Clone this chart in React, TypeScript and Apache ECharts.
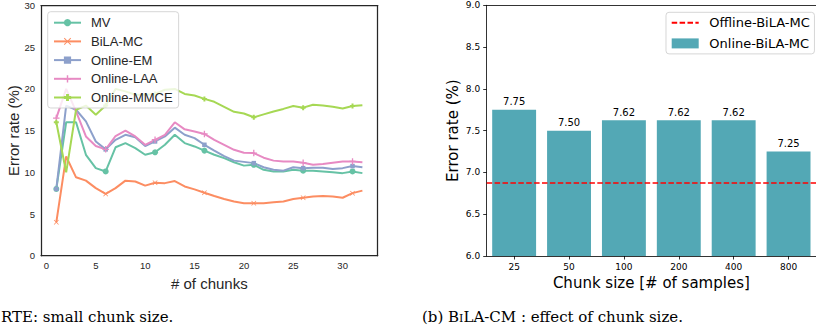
import React, { useEffect, useRef } from "react";
import * as echarts from "echarts";

// ---- Left chart data ----
const chunks = [1, 2, 3, 4, 5, 6, 7, 8, 9, 10, 11, 12, 13, 14, 15, 16, 17, 18, 19, 20, 21, 22, 23, 24, 25, 26, 27, 28, 29, 30, 31, 32];
const mvErr = [8.0, 16.0, 16.0, 12.1, 10.5, 10.1, 13.0, 13.5, 12.9, 12.1, 12.4, 13.3, 14.5, 13.5, 13.1, 12.6, 12.1, 11.7, 11.2, 10.8, 10.9, 10.3, 10.1, 10.1, 10.3, 10.2, 10.2, 10.1, 10.0, 9.9, 10.1, 9.9];
const bilaErr = [4.0, 11.9, 9.4, 9.0, 8.1, 7.4, 8.1, 9.0, 8.9, 8.4, 8.75, 8.7, 8.95, 8.3, 7.95, 7.55, 7.15, 6.8, 6.5, 6.3, 6.3, 6.3, 6.4, 6.5, 6.8, 6.95, 7.1, 7.15, 7.1, 6.95, 7.5, 7.8];
const emErr = [8.0, 18.0, 17.5, 16.1, 13.7, 12.75, 13.9, 14.5, 14.2, 13.15, 13.7, 14.3, 15.35, 14.5, 14.1, 13.3, 12.6, 11.95, 11.4, 11.25, 11.1, 10.6, 10.3, 10.2, 10.6, 10.5, 10.55, 10.55, 10.4, 10.5, 10.75, 10.6];
const laaErr = [16.5, 20.0, 17.3, 14.3, 13.15, 12.75, 14.35, 15.0, 14.3, 13.3, 13.9, 14.5, 16.0, 15.15, 14.9, 14.6, 13.9, 13.3, 12.7, 12.35, 12.3, 11.75, 11.4, 11.3, 11.3, 11.15, 10.9, 11.0, 11.15, 11.3, 11.3, 11.2];
const mmceErr = [16.0, 10.0, 17.5, 18.0, 16.9, 18.0, 20.0, 19.7, 19.3, 19.3, 19.4, 19.9, 20.0, 19.4, 19.2, 18.8, 18.45, 17.85, 17.25, 17.05, 16.6, 16.95, 17.3, 17.6, 17.95, 17.75, 18.1, 18.0, 17.85, 17.65, 17.95, 18.05];
const leftXTicks = [0, 5, 10, 15, 20, 25, 30];

// ---- Right chart data ----
const chunkSizes = ["25", "50", "100", "200", "400", "800"];
const onlineBila = [7.75, 7.5, 7.625, 7.625, 7.625, 7.25];
const onlineLabels = ["7.75", "7.50", "7.62", "7.62", "7.62", "7.25"];
const offlineBila = 6.875;

const XPATH = "path://M1,0 L5,4 L9,0 L10,1 L6,5 L10,9 L9,10 L5,6 L1,10 L0,9 L4,5 L0,1 Z";
const PLUS_THIN = "path://M4,0 H6 V4 H10 V6 H6 V10 H4 V6 H0 V4 H4 Z";
const PLUS_THICK = "path://M3,0 H7 V3 H10 V7 H7 V10 H3 V7 H0 V3 H3 Z";

const SANS = "Liberation Sans";
const DJ = "DejaVu Sans";
const DARK = "#262626";

function mk(ys: number[]) {
  return chunks.map((x, i) => (i % 5 === 0 ? [x, ys[i]] : { value: [x, ys[i]], symbol: "none" }));
}

const leftSeriesDefs = [
  { name: "MV", ys: mvErr, color: "#66c2a5", symbol: "circle", size: 6 },
  { name: "BiLA-MC", ys: bilaErr, color: "#fc8d62", symbol: XPATH, size: 5 },
  { name: "Online-EM", ys: emErr, color: "#8da0cb", symbol: "rect", size: 4.5 },
  { name: "Online-LAA", ys: laaErr, color: "#e78ac3", symbol: PLUS_THIN, size: 6.5 },
  { name: "Online-MMCE", ys: mmceErr, color: "#a6d854", symbol: PLUS_THICK, size: 5 },
];

export default function App() {
  const ref = useRef<HTMLDivElement>(null);
  useEffect(() => {
    document.body.style.margin = "0";
    const chart = echarts.init(ref.current!, null, { renderer: "svg" });
    const leftMin = -0.55;
    const leftMax = 33.55;
    const option: any = {
      animation: false,
      grid: [
        { left: 41, top: 5.5, width: 336.7, height: 250.2 },
        { left: 486.7, top: 5.3, width: 336, height: 250.7 },
      ],
      xAxis: [
        {
          gridIndex: 0,
          type: "value",
          min: leftMin,
          max: leftMax,
          axisLine: { show: true, onZero: false, lineStyle: { color: DARK, width: 1.25 } },
          axisTick: { show: false },
          splitLine: { show: false },
          axisLabel: { customValues: leftXTicks, color: DARK, fontSize: 9.5, fontFamily: SANS, margin: 5 },
          name: "# of chunks",
          nameLocation: "middle",
          nameGap: 17,
          nameTextStyle: { fontSize: 15, fontFamily: SANS, color: DARK },
        },
        {
          gridIndex: 0,
          type: "value",
          position: "top",
          min: leftMin,
          max: leftMax,
          axisLine: { show: true, onZero: false, lineStyle: { color: DARK, width: 1.25 } },
          axisTick: { show: false },
          axisLabel: { show: false },
          splitLine: { show: false },
        },
        {
          gridIndex: 1,
          type: "category",
          data: chunkSizes,
          axisLine: { show: true, onZero: false, lineStyle: { color: "#000", width: 0.8 } },
          axisTick: { show: true, alignWithLabel: true, length: 3.5, lineStyle: { color: "#000", width: 0.8 } },
          axisLabel: { color: "#000", fontSize: 9, fontFamily: DJ, margin: 6 },
          splitLine: { show: false },
          name: "Chunk size [# of samples]",
          nameLocation: "middle",
          nameGap: 18,
          nameTextStyle: { fontSize: 15, fontFamily: DJ, color: "#000" },
        },
        {
          gridIndex: 1,
          type: "category",
          position: "top",
          data: chunkSizes,
          axisLine: { show: true, onZero: false, lineStyle: { color: "#000", width: 0.8 } },
          axisTick: { show: false },
          axisLabel: { show: false },
          splitLine: { show: false },
        },
      ],
      yAxis: [
        {
          gridIndex: 0,
          type: "value",
          min: 0,
          max: 30,
          interval: 5,
          axisLine: { show: true, onZero: false, lineStyle: { color: DARK, width: 1.25 } },
          axisTick: { show: false },
          splitLine: { show: false },
          axisLabel: { color: DARK, fontSize: 9.5, fontFamily: SANS, margin: 6 },
          name: "Error rate (%)",
          nameLocation: "middle",
          nameGap: 20,
          nameTextStyle: { fontSize: 15, fontFamily: SANS, color: DARK },
        },
        {
          gridIndex: 0,
          type: "value",
          position: "right",
          min: 0,
          max: 30,
          interval: 5,
          axisLine: { show: true, onZero: false, lineStyle: { color: DARK, width: 1.25 } },
          axisTick: { show: false },
          axisLabel: { show: false },
          splitLine: { show: false },
        },
        {
          gridIndex: 1,
          type: "value",
          min: 6,
          max: 9,
          interval: 0.5,
          axisLine: { show: true, onZero: false, lineStyle: { color: "#000", width: 0.8 } },
          axisTick: { show: true, length: 3.5, lineStyle: { color: "#000", width: 0.8 } },
          splitLine: { show: false },
          axisLabel: { color: "#000", fontSize: 9, fontFamily: DJ, margin: 6.5, formatter: (v: number) => v.toFixed(1) },
          name: "Error rate (%)",
          nameLocation: "middle",
          nameGap: 26,
          nameTextStyle: { fontSize: 15, fontFamily: DJ, color: "#000" },
        },
        {
          gridIndex: 1,
          type: "value",
          position: "right",
          min: 6,
          max: 9,
          interval: 0.5,
          axisLine: { show: true, onZero: false, lineStyle: { color: "#000", width: 0.8 } },
          axisTick: { show: false },
          axisLabel: { show: false },
          splitLine: { show: false },
        },
      ],
      legend: [
        {
          data: leftSeriesDefs.map((d) => d.name),
          orient: "vertical",
          left: 47.7,
          top: 11.7,
          itemWidth: 27,
          itemHeight: 9,
          itemGap: 5.7,
          padding: [4.5, 6, 4, 5.3],
          backgroundColor: "rgba(255,255,255,0.8)",
          borderColor: "rgba(204,204,204,0.8)",
          borderWidth: 1,
          borderRadius: 3,
          textStyle: { fontFamily: SANS, fontSize: 13, color: DARK, padding: [0, 0, 0, 5] },
        },
        {
          data: [
            { name: "Offline-BiLA-MC", itemStyle: { opacity: 0 } },
            { name: "Online-BiLA-MC", icon: "rect" },
          ],
          orient: "vertical",
          left: 666,
          top: 12.3,
          itemWidth: 27,
          itemHeight: 10,
          itemGap: 7.6,
          padding: [4, 4.6, 4, 4.7],
          backgroundColor: "rgba(255,255,255,0.8)",
          borderColor: "rgba(204,204,204,0.8)",
          borderWidth: 1,
          borderRadius: 3,
          textStyle: { fontFamily: DJ, fontSize: 13, color: "#000", padding: [0, 0, 0, 5.6] },
        },
      ],
      series: [
        ...leftSeriesDefs.map((d) => ({
          type: "line",
          name: d.name,
          xAxisIndex: 0,
          yAxisIndex: 0,
          data: mk(d.ys),
          symbol: d.symbol,
          symbolSize: d.size,
          showAllSymbol: true,
          lineStyle: { color: d.color, width: 2 },
          itemStyle: { color: d.color },
        })),
        {
          type: "bar",
          name: "Online-BiLA-MC",
          xAxisIndex: 2,
          yAxisIndex: 2,
          data: onlineBila,
          barWidth: "80%",
          itemStyle: { color: "#53a8b5" },
          label: {
            show: true,
            position: "top",
            distance: 3,
            fontSize: 10,
            fontFamily: DJ,
            color: "#000",
            formatter: (p: any) => onlineLabels[p.dataIndex],
          },
          markLine: {
            silent: true,
            symbol: ["none", "none"],
            label: { show: false },
            lineStyle: { color: "#ff0000", type: [5.5, 2.4], width: 1.5 },
            data: [{ yAxis: offlineBila }],
          },
        },
        {
          type: "line",
          name: "Offline-BiLA-MC",
          xAxisIndex: 2,
          yAxisIndex: 2,
          data: [],
          symbol: "none",
          lineStyle: { color: "#ff0000", type: [5.5, 2.4], width: 1.5 },
          itemStyle: { color: "#ff0000" },
        },
      ],
      graphic: [
        {
          type: "text",
          x: 1,
          y: 309,
          style: { text: "RTE: small chunk size.", font: '15px "DejaVu Serif"', fill: "#000" },
        },
        {
          type: "text",
          x: 422,
          y: 309,
          style: {
            text: "{a|(b) B}{s|I}{a|LA-CM : effect of chunk size.}",
            fill: "#000",
            rich: {
              a: { font: '15px "DejaVu Serif"', verticalAlign: "bottom" },
              s: { font: '11px "DejaVu Serif"', verticalAlign: "bottom" },
            },
          },
        },
      ],
    };
    chart.setOption(option);
    return () => chart.dispose();
  }, []);
  return <div ref={ref} style={{ width: 816, height: 331, position: "absolute", left: 0, top: 0 }} />;
}
